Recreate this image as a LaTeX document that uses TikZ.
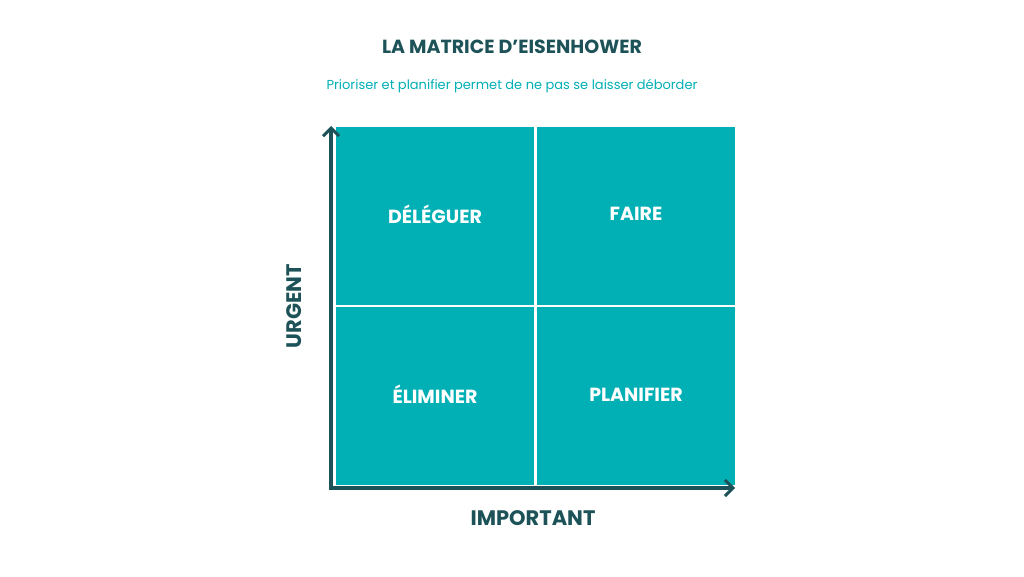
\documentclass[tikz,border=0pt]{standalone}
\usepackage{fontspec}
\setmainfont{Poppins}
\usetikzlibrary{arrows.meta}
\definecolor{teal1}{HTML}{00B0B5}
\definecolor{dark}{HTML}{1D5358}
\begin{document}
\begin{tikzpicture}[x=1pt,y=-1pt,
  quad/.style={fill=teal1,draw=white,line width=2.5pt,minimum width=201pt,minimum height=180.5pt,anchor=north west,inner sep=0pt,text=white,font=\fontsize{21}{24}\selectfont\bfseries},
  axis/.style={draw=dark,line width=4.5pt,-{Straight Barb[length=8pt,width=16pt,line width=3pt]}},
  lab/.style={text=dark,font=\fontsize{21}{24}\selectfont\bfseries}]
\useasboundingbox (0,0) rectangle (1024,576);
\fill[white] (0,0) rectangle (1024,576);
\node[text=dark,font=\fontsize{19}{22}\selectfont\bfseries] (title) at (512,47) {LA MATRICE D’EISENHOWER};
\node[text=teal1,font=\fontsize{13}{16}\selectfont] (sub) at (512,86) {Prioriser et planifier permet de ne pas se laisser déborder};
\node[quad] (q1) at (333,124) {};
\node[quad] (q2) at (534,124) {};
\node[quad] (q3) at (333,304.5) {};
\node[quad] (q4) at (534,304.5) {};
\node[text=white,font=\fontsize{19}{22}\selectfont\bfseries] at (435,214) {DÉLÉGUER};
\node[text=white,font=\fontsize{19}{22}\selectfont\bfseries] at (636,214) {FAIRE};
\node[text=white,font=\fontsize{19}{22}\selectfont\bfseries] at (435,394) {ÉLIMINER};
\node[text=white,font=\fontsize{19}{22}\selectfont\bfseries] at (636,395) {PLANIFIER};
\coordinate (o) at (331,488);
\coordinate (top) at (331,126);
\coordinate (right) at (735,488);
\draw[axis] (o) -- (top);
\draw[axis] ([xshift=-2.2pt]o) -- (right);
\node[lab,rotate=90] (urg) at (294,306) {URGENT};
\node[lab] (imp) at (533,518) {IMPORTANT};
\end{tikzpicture}
\end{document}
